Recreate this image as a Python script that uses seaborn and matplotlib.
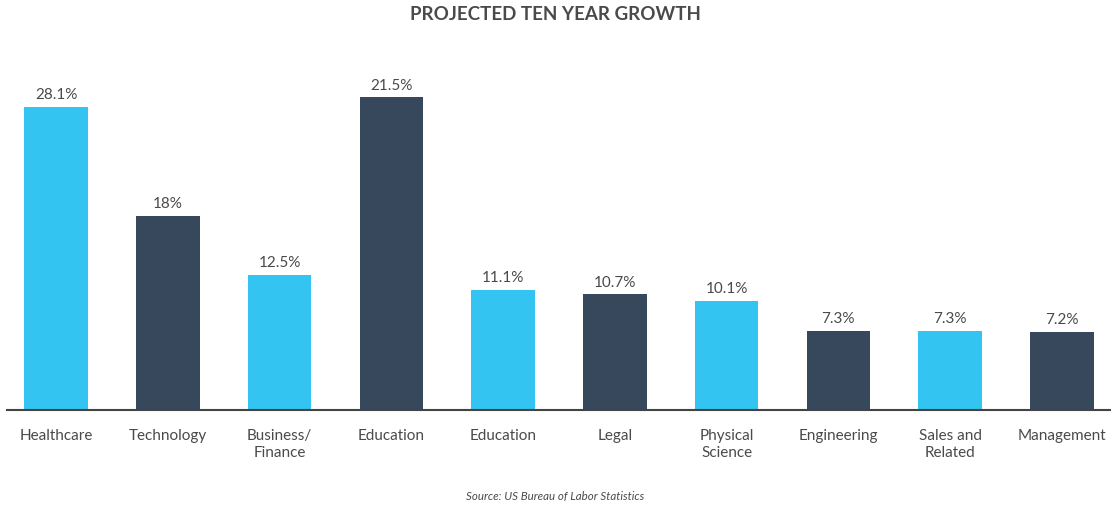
import matplotlib
matplotlib.use("Agg")
import matplotlib.pyplot as plt
import seaborn as sns
import pandas as pd

categories = ["Healthcare", "Technology", "Business/\nFinance", "Education", "Education",
              "Legal", "Physical\nScience", "Engineering", "Sales and\nRelated", "Management"]
bar_heights = [28.1, 18.0, 12.5, 29.0, 11.1, 10.7, 10.1, 7.3, 7.3, 7.2]
value_labels = ["28.1%", "18%", "12.5%", "21.5%", "11.1%", "10.7%", "10.1%", "7.3%", "7.3%", "7.2%"]
bar_colors = ["#33C4F2", "#37475C"] * 5

sns.set_theme(style="white")
plt.rcParams['font.family'] = ['Lato', 'DejaVu Sans']
TXT = "#4a4a4a"

df = pd.DataFrame({"pos": [str(i) for i in range(len(categories))], "value": bar_heights})

fig = plt.figure(figsize=(11.11, 5.06), dpi=100)
ax = fig.add_axes([7 / 1111, 1 - 410.5 / 506, 1104 / 1111, (410.5 - 60) / 506])

sns.barplot(data=df, x="pos", y="value", hue="pos", palette=bar_colors,
            legend=False, width=0.57, ax=ax, saturation=1, linewidth=0)

ax.set_xlim(-0.44, len(categories) - 1 + 0.44)
ax.set_ylim(0, (410.5 - 60) / 10.77)

for i, (h, lab) in enumerate(zip(bar_heights, value_labels)):
    ax.annotate(lab, (i, h), xytext=(0, 4), textcoords="offset points",
                ha="center", va="bottom", fontsize=11, color=TXT)

ax.set_xticks(range(len(categories)))
ax.set_xticklabels(categories, fontsize=11, color=TXT, linespacing=1.3, va="top")
ax.tick_params(axis="x", length=0, pad=13)
ax.set_yticks([])
ax.set_xlabel("")
ax.set_ylabel("")
for s in ["top", "right", "left"]:
    ax.spines[s].set_visible(False)
ax.spines["bottom"].set_color("#444444")
ax.spines["bottom"].set_linewidth(1.5)

fig.text(0.5, 1 - 14 / 506, "PROJECTED TEN YEAR GROWTH", ha="center", va="center",
         fontsize=13.5, fontweight="bold", color=TXT)
fig.text(0.5, 1 - 497 / 506, "Source: US Bureau of Labor Statistics", ha="center", va="center",
         fontsize=8.3, style="italic", color=TXT)

fig.savefig("out.png", dpi=100)
